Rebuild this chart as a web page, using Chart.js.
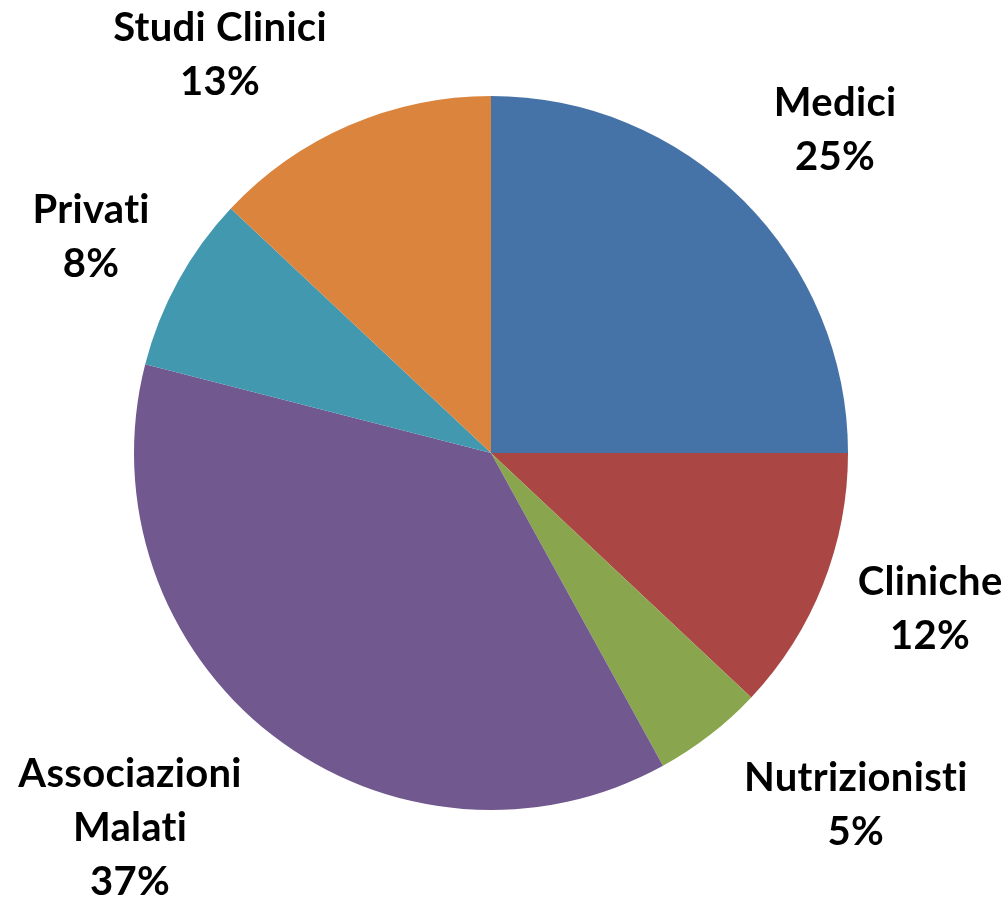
<!DOCTYPE html>
<html><head><meta charset="utf-8">
<script src="https://cdn.jsdelivr.net/npm/chart.js@4/dist/chart.umd.min.js"></script>
<style>html,body{margin:0;padding:0;background:#fff;}#wrap{width:1006px;height:897px;}</style>
</head><body><div id="wrap"><canvas id="c" width="1006" height="897"></canvas></div>
<script>
const categories = ["Medici", "Cliniche", "Nutrizionisti", "Associazioni Malati", "Privati", "Studi Clinici"];
const labelLines = [["Medici"], ["Cliniche"], ["Nutrizionisti"], ["Associazioni", "Malati"], ["Privati"], ["Studi Clinici"]];
const values = [25, 12, 5, 37, 8, 13];
const colors = ["#4572A7", "#AA4643", "#89A54E", "#71588F", "#4198AF", "#DB843D"];
// label block centres, relative to pie centre, in units of radius
const labelOffsets = [[0.964,-0.905],[1.23,0.437],[1.022,0.986],[-1.011,1.05],[-1.12,-0.605],[-0.759,-1.115]];

const labelPlugin = {
  id: 'outLabels',
  afterDraw(chart) {
    const ctx = chart.ctx;
    const meta = chart.getDatasetMeta(0);
    const total = values.reduce((a,b)=>a+b,0);
    ctx.save();
    ctx.fillStyle = '#000';
    ctx.font = 'bold 40px Lato';
    if ('letterSpacing' in ctx) ctx.letterSpacing = '0.3px';
    ctx.textAlign = 'center';
    ctx.textBaseline = 'middle';
    const lh = 54;
    meta.data.forEach((arc, i) => {
      const r = arc.outerRadius;
      const cx = arc.x + labelOffsets[i][0]*r;
      const cy = arc.y + labelOffsets[i][1]*r;
      const lines = labelLines[i].concat([Math.round(values[i]/total*100) + '%']);
      const y0 = cy - (lines.length-1)*lh/2;
      lines.forEach((t, k) => ctx.fillText(t, cx, y0 + k*lh));
    });
    ctx.restore();
  }
};

new Chart(document.getElementById('c'), {
  type: 'pie',
  data: { labels: categories, datasets: [{ data: values, backgroundColor: colors, borderWidth: 0 }] },
  options: {
    responsive: false,
    animation: false,
    layout: { padding: { left: 134, right: 158, top: 96, bottom: 87 } },
    plugins: { legend: { display: false }, tooltip: { enabled: false } }
  },
  plugins: [labelPlugin]
});
</script></body></html>
